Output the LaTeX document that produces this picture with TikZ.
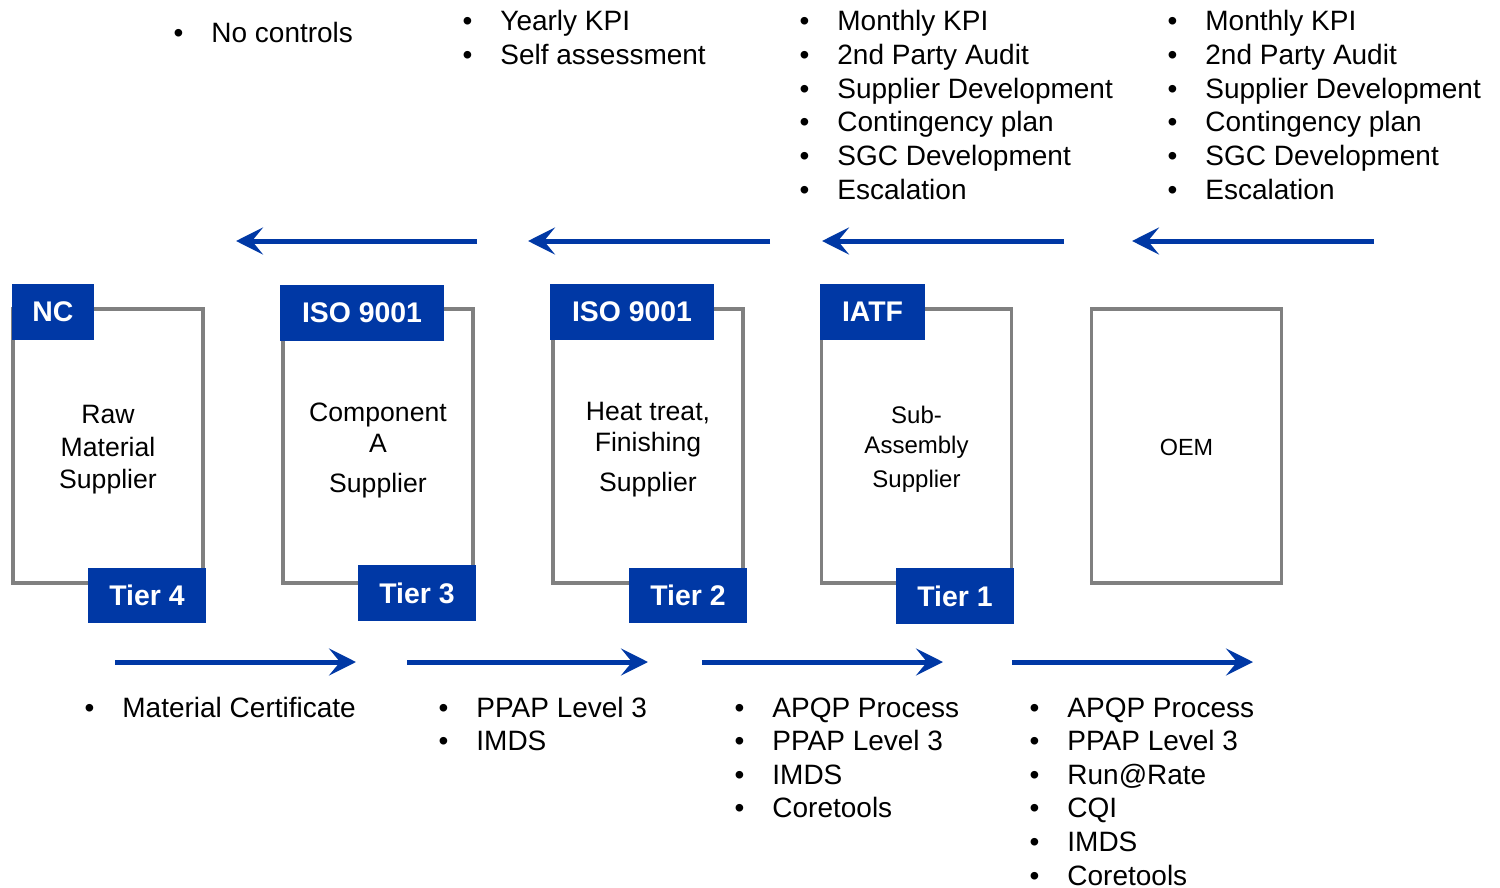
\documentclass[tikz,border=0pt]{standalone}
\usepackage{fontspec}
\setmainfont{Liberation Sans}
\usetikzlibrary{arrows.meta}
\definecolor{tblue}{RGB}{0,56,165}
\definecolor{bgray}{RGB}{128,128,128}
\newcommand{\bulletlist}[4]{%
  \foreach \t [count=\i from 0] in {#4} {
    \node[item] (#1-\i) at (#2, {#3+33.6*\i}) {\llap{\textbullet\hspace{14pt}}\t};
  }%
}
\tikzset{
  item/.style={anchor=base west, inner sep=0pt, font=\fontsize{14}{16.8}\selectfont},
  box/.style={draw=bgray, line width=1.75pt, fill=white, minimum width=95pt, minimum height=137pt, inner sep=0pt},
  boxtext/.style={inner sep=0pt, align=center},
  tag/.style={fill=tblue, text=white, font=\bfseries\fontsize{14.2}{16}\selectfont, inner sep=0pt, minimum height=28pt},
  flow/.style={draw=tblue, line width=2.5pt, -{Stealth[length=13.5pt, width=13.5pt, inset=5.5pt]}}
}
\begin{document}
\begin{tikzpicture}[x=0.5pt, y=-0.5pt]
\useasboundingbox (0,0) rectangle (1500,888);
% boxes
\node[box] (b1) at (108,446) {};
\node[box] (b2) at (378,446) {};
\node[box] (b3) at (648,446) {};
\node[box] (b4) at (916.5,446) {};
\node[box] (b5) at (1186.5,446) {};
% box texts
\node[boxtext, font=\fontsize{13.3}{16.25}\selectfont] (l1) at ([yshift=-2pt]b1.center) {Raw\\Material\\Supplier};
\node[boxtext, font=\fontsize{13.3}{15.5}\selectfont] (l2) at ([yshift=-2pt]b2.center) {Component\\A\\[4.5pt]Supplier};
\node[boxtext, font=\fontsize{13.3}{15.5}\selectfont] (l3) at ([yshift=-2pt]b3.center) {Heat treat,\\Finishing\\[4.5pt]Supplier};
\node[boxtext, font=\fontsize{12}{15}\selectfont] (l4) at ([yshift=-1.5pt]b4.center) {Sub-\\Assembly\\[2pt]Supplier};
\node[boxtext, font=\fontsize{11.7}{14}\selectfont] (l5) at ([yshift=-0.5pt]b5.center) {OEM};
% tags
\node[tag, minimum width=41pt] (c1) at (53,312) {NC};
\node[tag, minimum width=82pt] (c2) at (362,312.5) {ISO 9001};
\node[tag, minimum width=82pt] (c3) at (632,312) {ISO 9001};
\node[tag, minimum width=52.5pt] (c4) at (872.5,312) {IATF};
\node[tag, minimum width=59pt, minimum height=27.5pt] (t4) at (147,595.5) {Tier 4};
\node[tag, minimum width=59pt] (t3) at (417,593) {Tier 3};
\node[tag, minimum width=59pt, minimum height=27.5pt] (t2) at (688,595.5) {Tier 2};
\node[tag, minimum width=59pt] (t1) at (955,596) {Tier 1};
% top arrows
\coordinate (ua1) at (477,241); \coordinate (ub1) at (236,241);
\coordinate (ua2) at (770,241); \coordinate (ub2) at (528,241);
\coordinate (ua3) at (1064,241); \coordinate (ub3) at (822,241);
\coordinate (ua4) at (1374,241); \coordinate (ub4) at (1132,241);
\foreach \k in {1,2,3,4} \draw[flow] (ua\k) -- (ub\k);
% bottom arrows
\coordinate (da1) at (115,662); \coordinate (db1) at (356,662);
\coordinate (da2) at (407,662); \coordinate (db2) at (648,662);
\coordinate (da3) at (702,662); \coordinate (db3) at (943,662);
\coordinate (da4) at (1012,662); \coordinate (db4) at (1253,662);
\foreach \k in {1,2,3,4} \draw[flow] (da\k) -- (db\k);
% top lists
\bulletlist{ta}{211}{43}{No controls}
\bulletlist{tb}{500}{31}{Yearly KPI, Self assessment}
\bulletlist{tc}{837}{31}{Monthly KPI, 2nd Party Audit, Supplier Development, Contingency plan, SGC Development, Escalation}
\bulletlist{td}{1205}{31}{Monthly KPI, 2nd Party Audit, Supplier Development, Contingency plan, SGC Development, Escalation}
% bottom lists
\bulletlist{ba}{122}{717}{Material Certificate}
\bulletlist{bb}{476}{717}{PPAP Level 3, IMDS}
\bulletlist{bc}{772}{717}{APQP Process, PPAP Level 3, IMDS, Coretools}
\bulletlist{bd}{1067}{717}{APQP Process, PPAP Level 3, Run@Rate, CQI, IMDS, Coretools}
\end{tikzpicture}
\end{document}
